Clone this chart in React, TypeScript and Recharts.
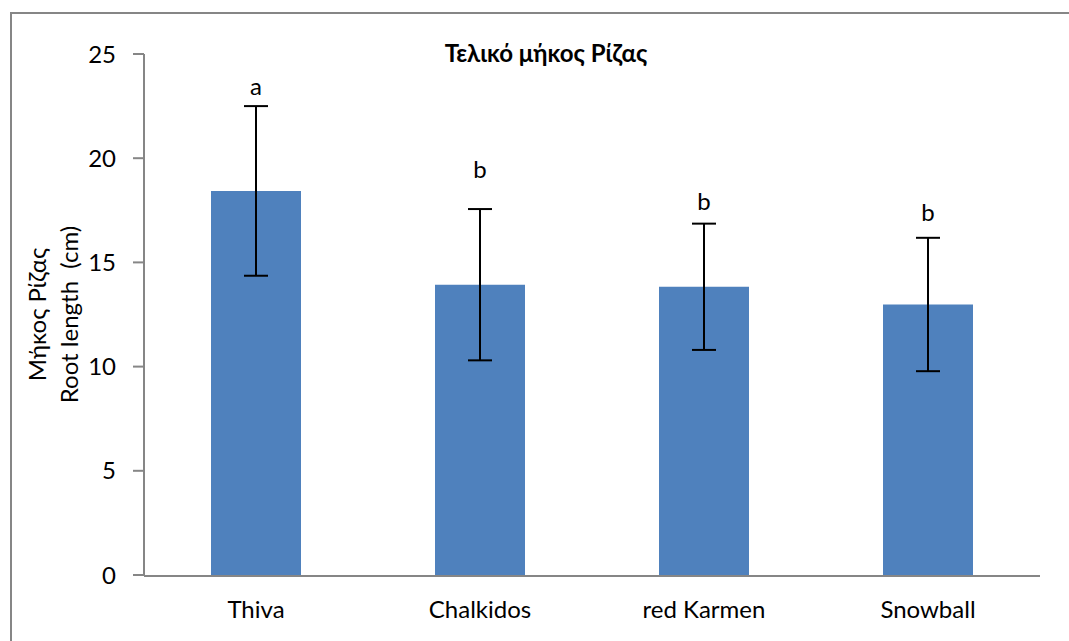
import React from "react";
import {
  ComposedChart,
  Bar,
  Line,
  XAxis,
  YAxis,
  ErrorBar,
  LabelList,
} from "recharts";

const categories = ["Thiva", "Chalkidos", "red Karmen", "Snowball"];
const means = [18.43, 13.93, 13.83, 12.98];
const errors = [4.07, 3.63, 3.03, 3.2];
const letters = ["a", "b", "b", "b"];
const letterY = [23.45, 19.45, 17.93, 17.39];
const yTicks = [0, 5, 10, 15, 20, 25];
const edgeTicks = [0, 1, 2, 3, 4];

const FONT = "Lato, 'Noto Sans', sans-serif";
const AXIS = "#868686";

const data = categories.map((name, i) => ({
  name,
  mean: means[i],
  err: errors[i],
  letter: letters[i],
  letterY: letterY[i],
}));

function YLabel({ viewBox }: any) {
  const cy = viewBox.y + viewBox.height / 2;
  return (
    <g fontFamily={FONT} fontSize={24} fill="#000">
      <text x={36} y={cy} transform={`rotate(-90 36 ${cy})`} textAnchor="middle" dominantBaseline="central">
        Μήκος Ρίζας
      </text>
      <text x={68} y={cy} transform={`rotate(-90 68 ${cy})`} textAnchor="middle" dominantBaseline="central">
        {"Root length\u00A0 (cm)"}
      </text>
    </g>
  );
}

export default function App() {
  return (
    <div style={{ position: "relative", width: 1069, height: 641, overflow: "hidden", background: "#fff" }}>
      <style>{`body{margin:0}`}</style>
      <div
        style={{
          position: "absolute",
          left: 10,
          top: 12,
          width: 1100,
          height: 700,
          border: `2px solid ${AXIS}`,
          boxSizing: "border-box",
        }}
      />
      <div
        style={{
          position: "absolute",
          left: 0,
          width: 1092,
          top: 40,
          textAlign: "center",
          fontFamily: FONT,
          fontWeight: "bold",
          fontSize: 24,
          lineHeight: "26px",
        }}
      >
        Τελικό μήκος Ρίζας
      </div>
      <ComposedChart
        width={1069}
        height={641}
        data={data}
        margin={{ top: 54, right: 29, bottom: 0, left: 0 }}
        style={{ position: "absolute", left: 0, top: 0 }}
      >
        <XAxis
          dataKey="name"
          axisLine={false}
          tickLine={false}
          height={1}
          tick={{ fontFamily: FONT, fontSize: 24, fill: "#000" }}
          tickMargin={20}
        />
        <XAxis
          xAxisId="edges"
          type="number"
          domain={[0, 4]}
          allowDataOverflow
          ticks={edgeTicks}
          tick={false}
          tickSize={8}
          height={65}
          stroke={AXIS}
          strokeWidth={2}
        />
        <YAxis
          domain={[0, 25]}
          ticks={yTicks}
          width={144}
          tickSize={11}
          tickMargin={17}
          stroke={AXIS}
          strokeWidth={2}
          tick={{ fontFamily: FONT, fontSize: 24, fill: "#000" }}
          label={<YLabel />}
        />
        <Bar dataKey="mean" fill="#4F81BD" barSize={90} isAnimationActive={false}>
          <ErrorBar dataKey="err" width={12} stroke="#000" strokeWidth={2} />
        </Bar>
        <Line
          dataKey="letterY"
          stroke="none"
          dot={false}
          activeDot={false}
          isAnimationActive={false}
        >
          <LabelList
            dataKey="letter"
            position="center"
            style={{ fontFamily: FONT, fontSize: 24, fill: "#000" }}
          />
        </Line>
      </ComposedChart>
    </div>
  );
}
